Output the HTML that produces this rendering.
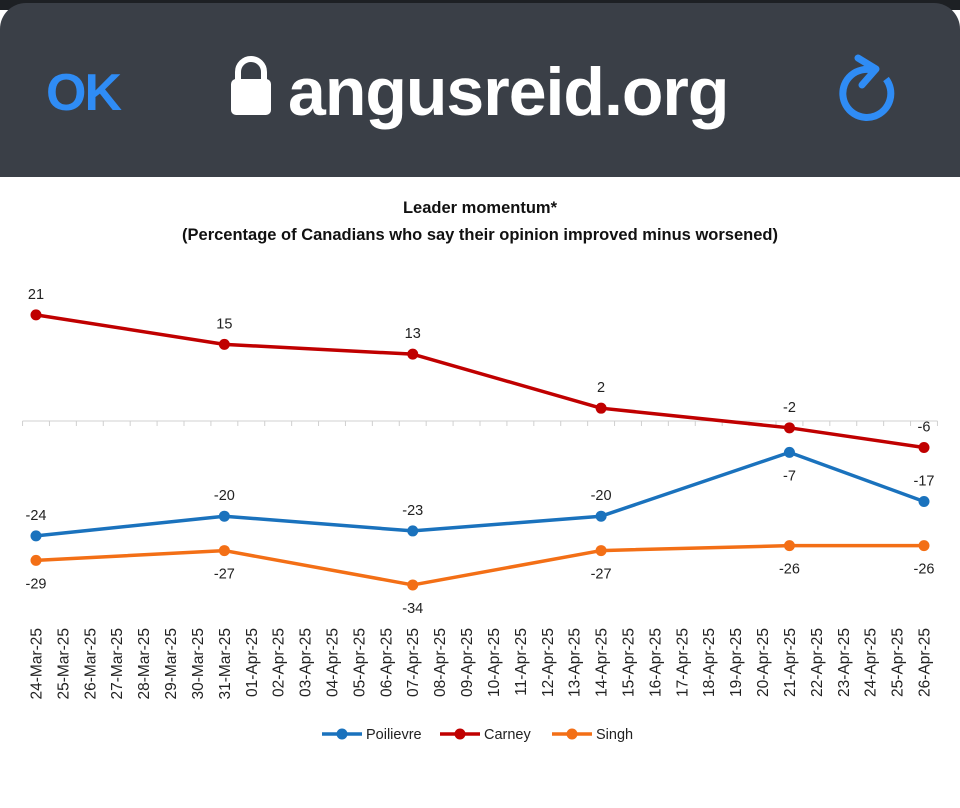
<!DOCTYPE html>
<html><head><meta charset="utf-8"><style>
html,body{margin:0;padding:0;background:#fff;width:960px;height:808px;overflow:hidden;font-family:"Liberation Sans",sans-serif}
#top{position:absolute;left:0;top:0;width:960px;height:10px;background:#1d2024}
#bar{position:absolute;left:0;top:3px;width:960px;height:174px;background:#3a3f47;border-radius:26px 26px 0 0}
#ok{position:absolute;left:46px;top:60px;color:#2f8cf5;font-size:52px;font-weight:bold;letter-spacing:-2px}
#url{position:absolute;left:288px;top:50px;color:#fff;font-size:68px;font-weight:bold;letter-spacing:-1px;transform:scaleX(1.0);transform-origin:left}
svg{position:absolute;left:0;top:0}
</style></head><body>
<div id="top"></div>
<div id="bar">
<div id="ok">OK</div>
<svg width="960" height="174" style="left:0;top:0">
<path d="M238,77 v-8 a13,13 0 0 1 26,0 v8" fill="none" stroke="#fff" stroke-width="6"/>
<rect x="231" y="76" width="40" height="36" rx="5" fill="#fff"/>
<path d="M872,67 A24,24 0 1 0 886,76" fill="none" stroke="#2f8cf5" stroke-width="7"/>
<path d="M858,55 L876,66 L862,82" fill="none" stroke="#2f8cf5" stroke-width="7" stroke-linejoin="round" stroke-linecap="round"/>
</svg>
<div id="url">angusreid.org</div>
</div>
<svg id="chart" width="960" height="808"></svg>
<script>
const dates=["24-Mar-25","25-Mar-25","26-Mar-25","27-Mar-25","28-Mar-25","29-Mar-25","30-Mar-25","31-Mar-25","01-Apr-25","02-Apr-25","03-Apr-25","04-Apr-25","05-Apr-25","06-Apr-25","07-Apr-25","08-Apr-25","09-Apr-25","10-Apr-25","11-Apr-25","12-Apr-25","13-Apr-25","14-Apr-25","15-Apr-25","16-Apr-25","17-Apr-25","18-Apr-25","19-Apr-25","20-Apr-25","21-Apr-25","22-Apr-25","23-Apr-25","24-Apr-25","25-Apr-25","26-Apr-25"];
const pointIdx=[0,7,14,21,28,33];
const poilievre=[-24,-20,-23,-20,-7,-17];
const carney=[21,15,13,2,-2,-6];
const singh=[-29,-27,-34,-27,-26,-26];
const NS="http://www.w3.org/2000/svg";
const svg=document.getElementById('chart');
const x=i=>36+i*(888/33);
const y=v=>418-v*4.91;
function el(t,a,txt){const e=document.createElementNS(NS,t);for(const k in a)e.setAttribute(k,a[k]);if(txt!==undefined)e.textContent=txt;svg.appendChild(e);return e;}
let t=el('text',{x:480,y:213,'text-anchor':'middle','font-size':16.5,'font-weight':'bold',fill:'#111'},'Leader momentum*');


t=el('text',{x:480,y:240,'text-anchor':'middle','font-size':16.5,'font-weight':'bold',fill:'#111'},'(Percentage of Canadians who say their opinion improved minus worsened)');


const ax=el('line',{x1:x(-0.5),x2:x(33.5),y1:421,y2:421,stroke:'#d0d0d0','stroke-width':1});


for(let i=0;i<=dates.length;i++){el('line',{x1:x(i-0.5),x2:x(i-0.5),y1:421,y2:426,stroke:'#d0d0d0'});}
dates.forEach((d,i)=>{const tx=el('text',{transform:`translate(${x(i)+5.5},628) rotate(-90)`,'text-anchor':'end','font-size':15.5,fill:'#222'},d);

});
function series(name,vals,color,above){
 const pts=vals.map((v,k)=>[x(pointIdx[k]),y(v)]);
 const p=el('polyline',{points:pts.map(p=>p.join(',')).join(' '),fill:'none',stroke:color,'stroke-width':3.5,'stroke-linejoin':'round'});
 
 
 pts.forEach((pt,k)=>{const c=el('circle',{cx:pt[0],cy:pt[1],r:5.5,fill:color});
 
 
 const up=above[k];
 const l=el('text',{x:pt[0],y:up?pt[1]-16:pt[1]+28,'text-anchor':'middle','font-size':14.5,fill:'#222'},vals[k]);
 
 });
}
series('poilievre',poilievre,'#1a72bd',[1,1,1,1,0,1]);
series('carney',carney,'#c00000',[1,1,1,1,1,1]);
series('singh',singh,'#f36f16',[0,0,0,0,0,0]);
const leg=[['Poilievre','#1a72bd',322],['Carney','#c00000',440],['Singh','#f36f16',552]];
leg.forEach(([n,c,lx])=>{
 const g=el('line',{x1:lx,x2:lx+40,y1:734,y2:734,stroke:c,'stroke-width':3.5});
 
 
 el('circle',{cx:lx+20,cy:734,r:5.5,fill:c});
 const lt=el('text',{x:lx+44,y:739,'font-size':14.5,fill:'#222'},n);
 
 
});
</script>
</body></html>
